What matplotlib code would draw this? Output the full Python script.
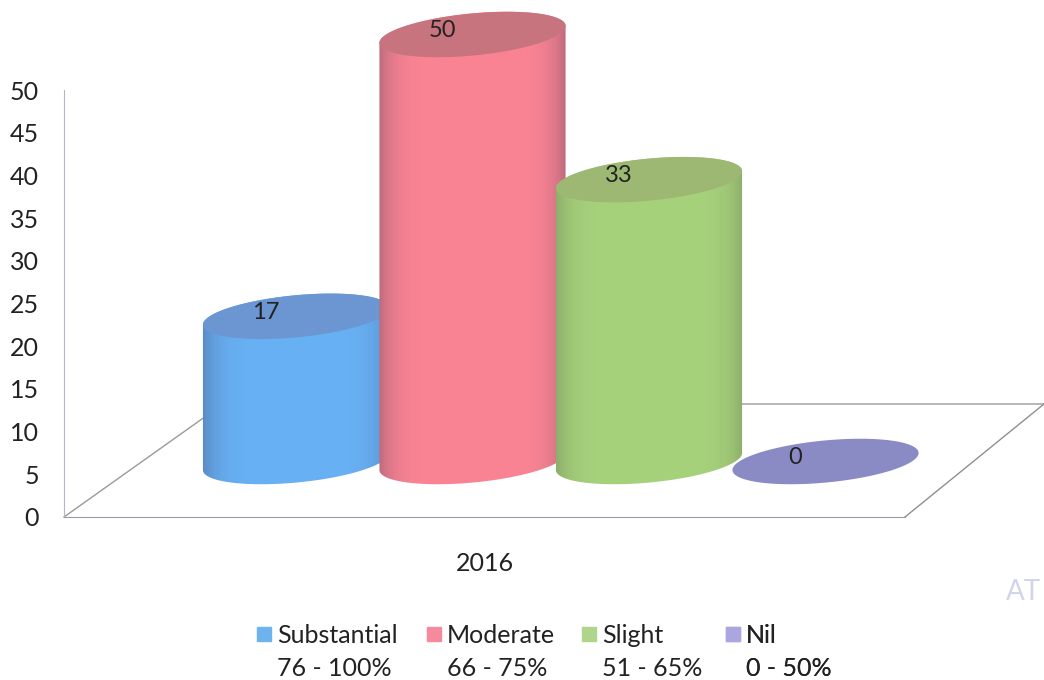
import numpy as np
import matplotlib
matplotlib.use('Agg')
import matplotlib.pyplot as plt
from matplotlib import patches as mpatches
from matplotlib.colors import to_rgb
from matplotlib.legend_handler import HandlerPatch

categories = ['Substantial\n76 - 100%', 'Moderate\n66 - 75%', 'Slight\n51 - 65%', 'Nil\n0 - 50%']
values = [17, 50, 33, 0]
year_labels = ['2016']
y_ticks = [0, 5, 10, 15, 20, 25, 30, 35, 40, 45, 50]

side_colors = ['#5a86c0', '#b5687a', '#8aa968', '#8585c0']
mid_colors = ['#68b1f4', '#fb8494', '#a7d27c', '#8c8cc8']
top_colors = ['#6b96d2', '#c8747e', '#9cb873', '#8a8ac4']
legend_colors = ['#6db3ee', '#f58a9c', '#aed588', '#aaa6e0']
legend_px = [254, 424, 579, 723]   # left edge of each legend entry

plt.rcParams['font.family'] = ['Lato', 'DejaVu Sans']

W, H = 1044, 680
PX_Y = 8.54      # pixels per value unit
PX_X = 176.5     # pixels between cylinders
X0 = 296         # pixel x of the first cylinder
Y0 = 517         # pixel y of value 0
FLOOR = 6.5      # cylinders stand this far up the floor
A, B, TILT = 93.5, 21, np.radians(5.5)


def px_x(x):
    return (x - X0) / PX_X


def px_y(y):
    return (Y0 - y) / PX_Y


def ellipse(cx, cy, t):
    # tilted ellipse, size in pixels, result in data units
    dx = A * np.cos(t) * np.cos(TILT) - B * np.sin(t) * np.sin(TILT)
    dy = A * np.cos(t) * np.sin(TILT) + B * np.sin(t) * np.cos(TILT)
    return cx + dx / PX_X, cy + dy / PX_Y


def legend_square(legend, orig_handle, xdescent, ydescent, width, height, fontsize):
    # square next to the first line of the two line label
    return mpatches.Rectangle((2 - xdescent, 15 - ydescent), 10, 10)


fig = plt.figure(figsize=(W / 100, H / 100), dpi=100)
ax = fig.add_axes([0, 0, 1, 1])
ax.patch.set_alpha(0)
xlim = (px_x(0), px_x(W))
ylim = (px_y(H), px_y(0))

# floor of the 3d box
floor_x = [px_x(64), px_x(223), px_x(1044)]
floor_y = [px_y(517), px_y(404), px_y(404)]
ax.plot(floor_x, floor_y, color='#9a9a9a', lw=1, zorder=1)
ax.plot([px_x(905), px_x(1044)], [px_y(517), px_y(404)], color='#8f8f8f', lw=1, zorder=1)

t_all = np.linspace(0, 2 * np.pi, 200)
t_low = np.linspace(np.pi, 2 * np.pi, 100)
t_up = np.linspace(0, np.pi, 100)

for i, val in enumerate(values):
    z = 3 + i
    top = FLOOR + val
    if val > 0:
        bx, by = ellipse(i, FLOOR, t_low)
        ux, uy = ellipse(i, top, t_up)
        body = mpatches.Polygon(np.column_stack([np.r_[bx, ux], np.r_[by, uy]]),
                                closed=True, fc='none', ec='none',
                                transform=ax.transData, zorder=z)
        ax.add_patch(body)
        # shading across the cylinder, dark only near the edges
        s = np.abs(np.linspace(-1, 1, 160)) ** 6
        grad = np.array([[(1 - k) * np.array(to_rgb(mid_colors[i])) + k * np.array(to_rgb(side_colors[i])) for k in s]])
        im = ax.imshow(grad, extent=(i - 0.54, i + 0.54, by.min() - 1, uy.max() + 1),
                       aspect='auto', zorder=z, interpolation='bilinear')
        im.set_clip_path(body)
        ex, ey = ellipse(i, top, t_all)
        ax.fill(ex, ey, color=top_colors[i], lw=0, zorder=z + 0.1)
    else:
        ex, ey = ellipse(i, FLOOR, t_all)
        ax.fill(ex, ey, color=top_colors[i], lw=0, zorder=z + 0.1)
    ax.annotate(str(val), (i, top), xytext=(-22, 3), textcoords='offset points',
                ha='center', va='center', fontsize=17, color='#222222', zorder=10)

ax.set_xlim(xlim)
ax.set_ylim(ylim)

for name in ['top', 'right']:
    ax.spines[name].set_visible(False)
ax.spines['left'].set_position(('data', px_x(64)))
ax.spines['left'].set_bounds(0, 50)
ax.spines['left'].set_color('#b4b4cc')
ax.spines['bottom'].set_position(('data', 0))
ax.spines['bottom'].set_bounds(px_x(64), px_x(905))
ax.spines['bottom'].set_color('#9a9aa6')
ax.set_yticks(y_ticks)
ax.set_xticks([px_x(485)])
ax.set_xticklabels(year_labels)
ax.tick_params(axis='y', length=0, pad=18, labelsize=18, labelcolor='#222222')
ax.tick_params(axis='x', length=0, pad=25, labelsize=18, labelcolor='#222222')
for lab in ax.get_yticklabels():
    lab.set_va('center_baseline')

# one legend per entry, the gaps between entries are uneven in the original
for label, color, left in zip(categories, legend_colors, legend_px):
    leg = ax.legend(handles=[mpatches.Patch(color=color, label=label)], loc='center left',
                    bbox_to_anchor=(left / W, 1 - 652 / H),
                    frameon=False, fontsize=18, handlelength=0.85, handletextpad=0.07,
                    labelspacing=0, borderpad=0, borderaxespad=0,
                    handler_map={mpatches.Patch: HandlerPatch(patch_func=legend_square)})
    for txt in leg.get_texts():
        txt.set_color('#222222')
        txt.set_linespacing(1.5)
    ax.add_artist(leg)

# stamp at the page edge
fig.text(1006 / W, 1 - 592 / H, 'AT', fontsize=20, color='#d2d4ee', ha='left', va='center')

fig.savefig('out.png', dpi=100)
